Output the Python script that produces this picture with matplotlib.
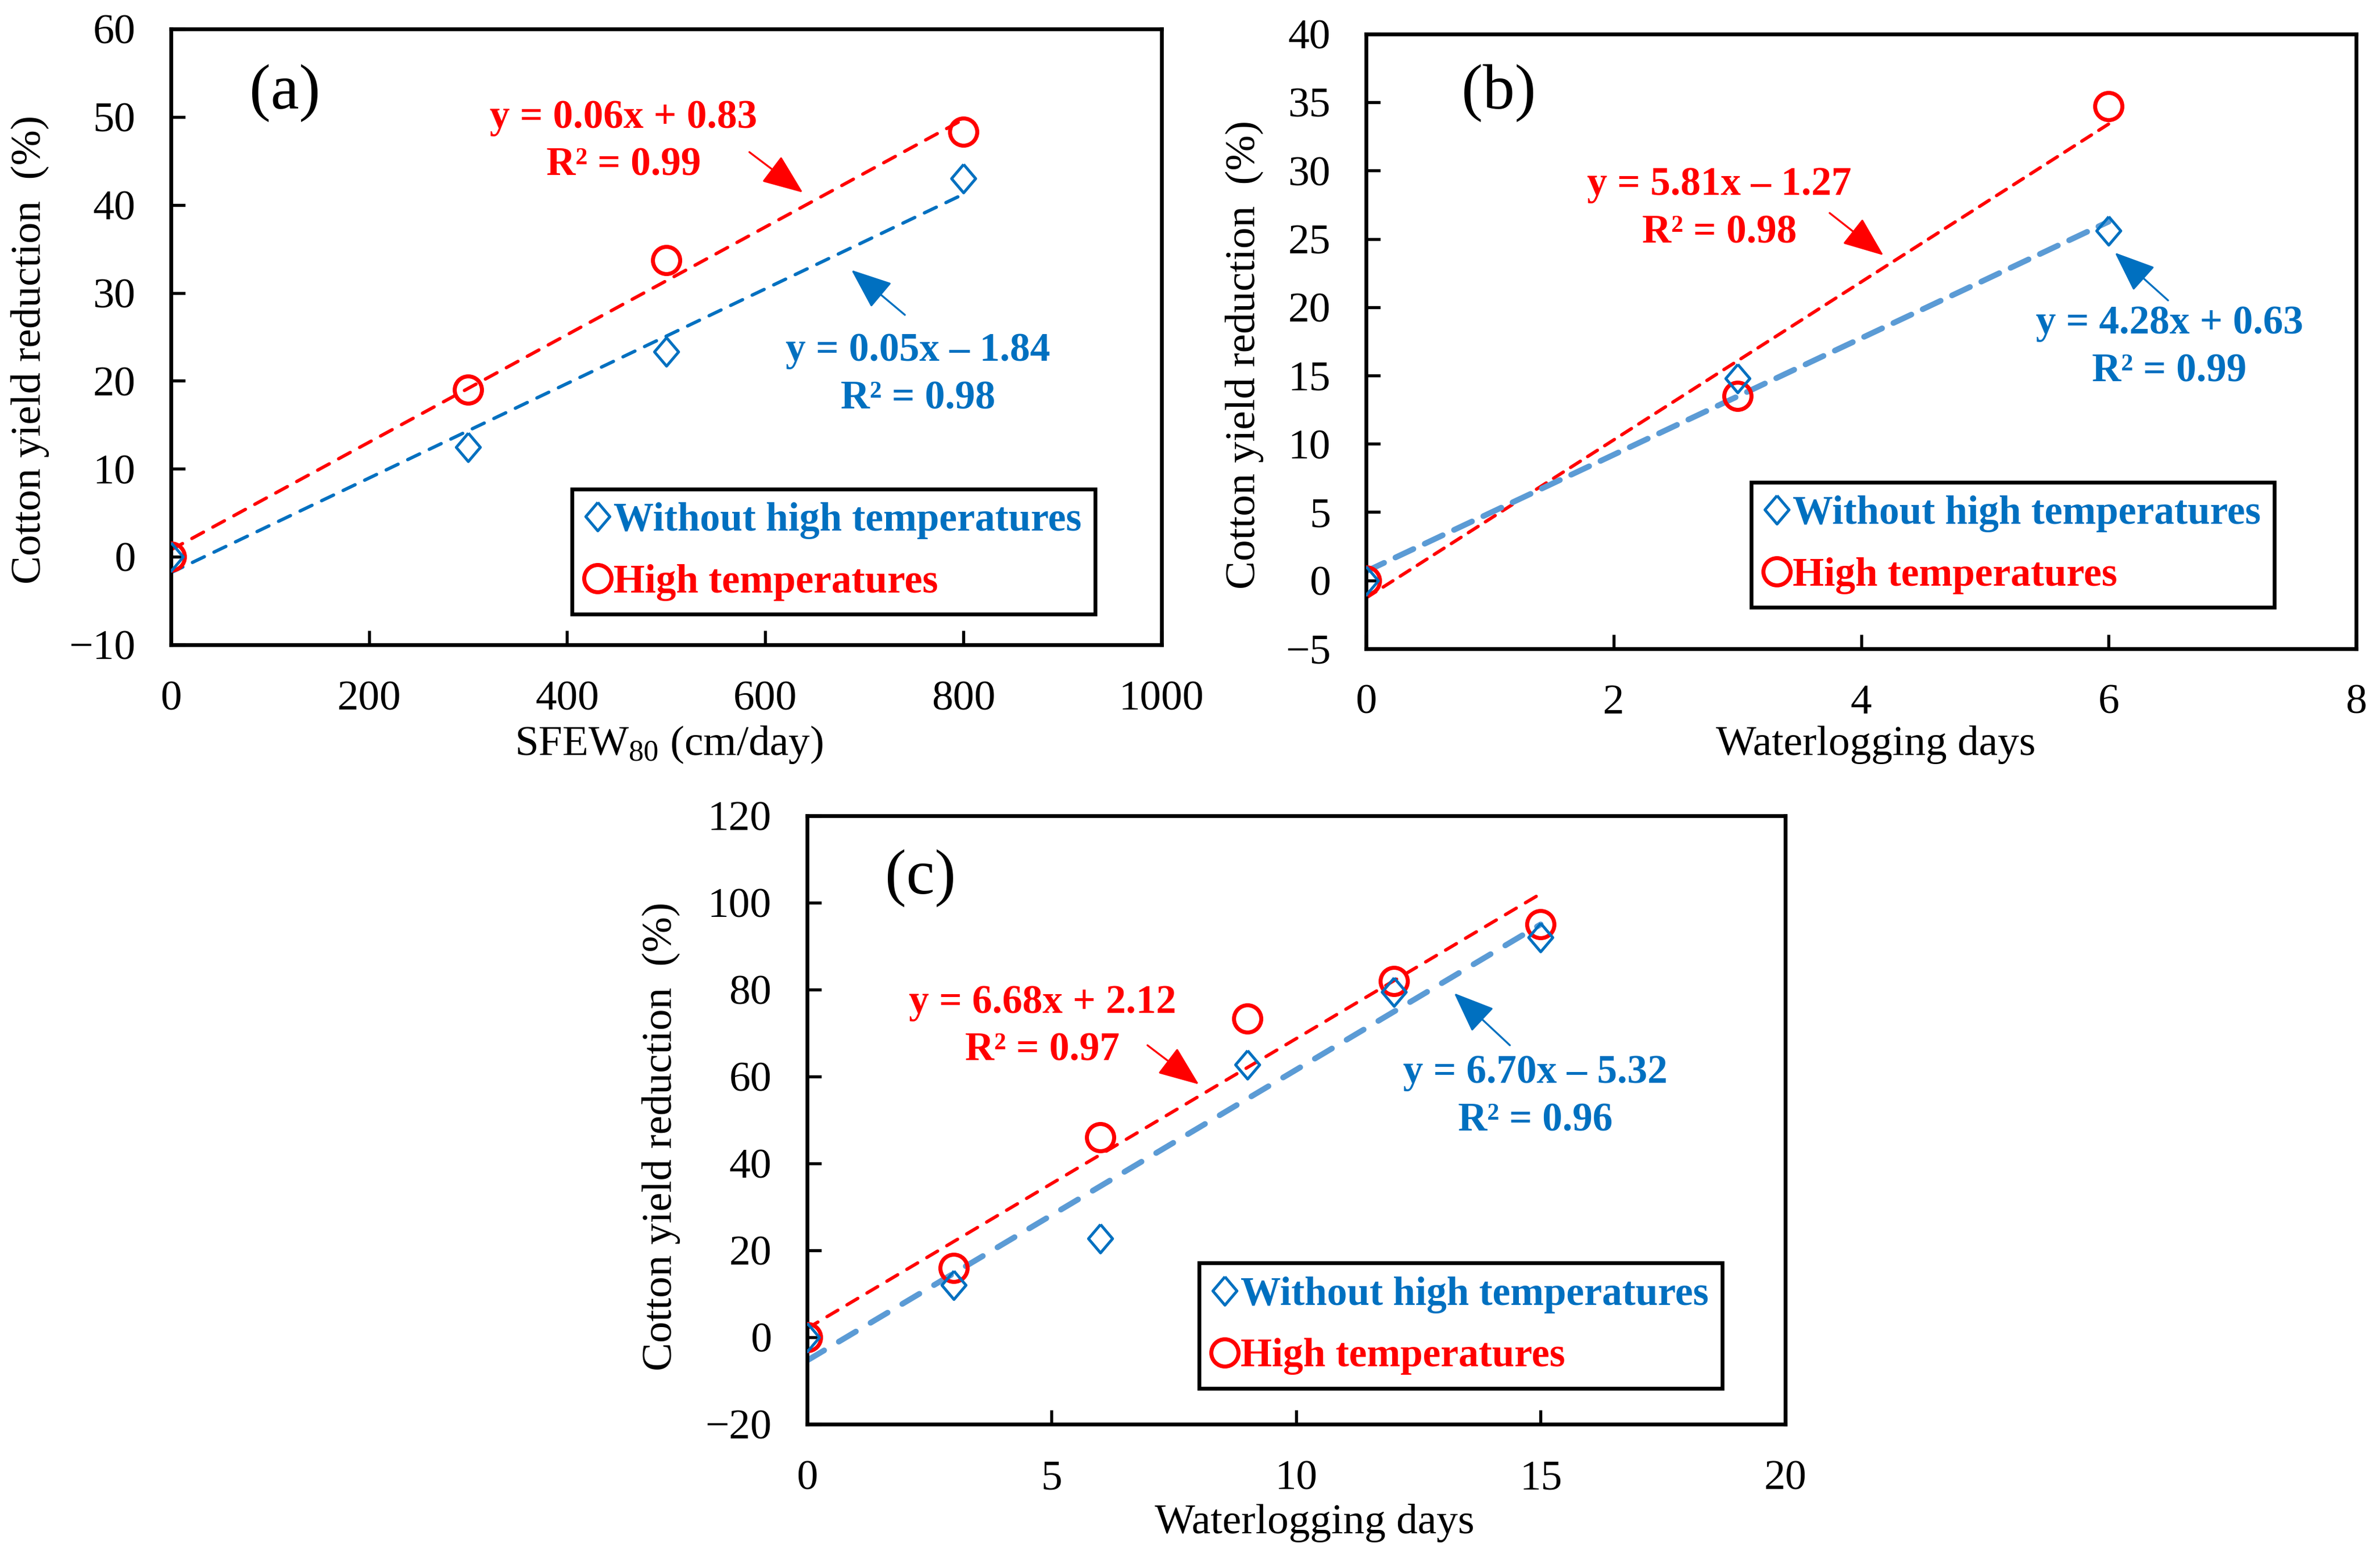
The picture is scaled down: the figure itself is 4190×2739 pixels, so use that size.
import numpy as np
import matplotlib.pyplot as plt

plt.rcParams['font.family'] = ['Liberation Serif', 'DejaVu Serif']
plt.rcParams['mathtext.default'] = 'regular'

# panel (a): SFEW80
sfew = [0, 300, 500, 800]
sfew_normal = [0, 12.5, 23.3, 43.0]
sfew_hot = [0, 19.0, 33.7, 48.3]

# panel (b): waterlogging days, first group
days_b = [0, 3, 6]
wl_b_normal = [0, 14.8, 25.6]
wl_b_hot = [0, 13.5, 34.7]

# panel (c): waterlogging days, second group
days_c = [0, 3, 6, 9, 12, 15]
wl_c_normal = [0, 12.0, 22.7, 62.8, 79.5, 92.0]
wl_c_hot = [0, 16.0, 46.0, 73.3, 82.0, 95.0]

eq_a = ['y = 0.06x + 0.83\nR² = 0.99', 'y = 0.05x – 1.84\nR² = 0.98']
eq_b = ['y = 5.81x – 1.27\nR² = 0.98', 'y = 4.28x + 0.63\nR² = 0.99']
eq_c = ['y = 6.68x + 2.12\nR² = 0.97', 'y = 6.70x – 5.32\nR² = 0.96']

RED = '#FF0000'
BLUE = '#0070C0'
LBLUE = '#5B9BD5'

diamond = [(0, 1), (0.85, 0), (0, -1), (-0.85, 0), (0, 1)]

fig = plt.figure(figsize=(4190 / 300, 2739 / 300), dpi=300)
ax_a = fig.add_axes([0.0718, 0.5856, 0.4162, 0.3958])
ax_b = fig.add_axes([0.5740, 0.5831, 0.4160, 0.3950])
ax_c = fig.add_axes([0.3391, 0.0847, 0.4110, 0.3910])


def style_axes(ax, xlim, xticks, ylim, yticks):
    ax.set_xlim(*xlim)
    ax.set_ylim(*ylim)
    ax.set_xticks(xticks)
    ax.set_yticks(yticks)
    ax.tick_params(direction='in', length=6, width=1.3, labelsize=18, pad=15)
    for sp in ax.spines.values():
        sp.set_linewidth(1.6)


def draw_panel(ax, x, y_norm, y_hot, blue_line, blue_lw, blue_dash, red_dash):
    x = np.array(x, dtype=float)
    # trend lines (least squares fit of the data)
    for y, col, lw, dash in [(y_hot, RED, 1.4, red_dash), (y_norm, blue_line, blue_lw, blue_dash)]:
        k, b = np.polyfit(x, y, 1)
        xx = np.array([x.min(), x.max()])
        ax.plot(xx, k * xx + b, color=col, lw=lw, dashes=dash, dash_capstyle='round', zorder=2)
    h1, = ax.plot(x, y_norm, linestyle='none', marker=diamond, ms=12, mfc='none',
                  mec=BLUE, mew=1.2, zorder=4, label='Without high temperatures')
    h2, = ax.plot(x, y_hot, linestyle='none', marker='o', ms=11.5, mfc='none',
                  mec=RED, mew=1.7, zorder=3, label='High temperatures')
    return h1, h2


def add_legend(ax, handles, anchor):
    leg = ax.legend(handles=handles, loc='upper left', bbox_to_anchor=anchor,
                    prop={'size': 17, 'weight': 'bold'}, handlelength=0.6,
                    handletextpad=0.1, labelspacing=0.62, borderpad=0.33,
                    borderaxespad=0, fancybox=False, framealpha=1, edgecolor='black')
    leg.get_frame().set_linewidth(1.6)
    for t, c in zip(leg.get_texts(), [BLUE, RED]):
        t.set_color(c)


def arrow(ax, tail, head, col):
    ax.annotate('', xy=head, xytext=tail,
                arrowprops=dict(arrowstyle='-|>,head_length=1.5,head_width=0.6',
                                mutation_scale=10, color=col, lw=0.8,
                                shrinkA=0, shrinkB=0), zorder=5)


def labels(ax, tag, tag_pos, xlabel, xl_pos, yl_pos):
    ax.text(tag_pos[0], tag_pos[1], tag, transform=ax.transAxes, fontsize=27,
            ha='center', va='center')
    ax.set_xlabel(xlabel, fontsize=18)
    ax.set_ylabel('Cotton yield reduction  (%)', fontsize=18)
    ax.xaxis.label.set_va('center')
    ax.yaxis.label.set_va('center')
    ax.xaxis.set_label_coords(*xl_pos)
    ax.yaxis.set_label_coords(*yl_pos)


def equation(ax, x, y, s, col):
    ax.text(x, y, s, color=col, fontsize=17, fontweight='bold',
            ha='center', va='center', linespacing=1.38)


# (a)
style_axes(ax_a, (0, 1000), range(0, 1001, 200), (-10, 60), range(-10, 61, 10))
h = draw_panel(ax_a, sfew, sfew_normal, sfew_hot, BLUE, 1.4, (4, 3.2), (4, 3.2))
add_legend(ax_a, h, (0.405, 0.253))
equation(ax_a, 457, 47.2, eq_a[0], RED)
equation(ax_a, 754, 20.7, eq_a[1], BLUE)
arrow(ax_a, (584, 46.0), (638, 41.4), RED)
arrow(ax_a, (741, 27.5), (687, 32.6), BLUE)
labels(ax_a, '(a)', (0.115, 0.897), 'SFEW$_{80}$ (cm/day)', (0.503, -0.162), (-0.142, 0.479))

# (b)
style_axes(ax_b, (0, 8), range(0, 9, 2), (-5, 40), range(-5, 41, 5))
h = draw_panel(ax_b, days_b, wl_b_normal, wl_b_hot, LBLUE, 2.4, (3.5, 2.2), (3.5, 2.6))
add_legend(ax_b, h, (0.389, 0.271))
equation(ax_b, 2.855, 27.2, eq_b[0], RED)
equation(ax_b, 6.49, 17.05, eq_b[1], BLUE)
arrow(ax_b, (3.745, 26.9), (4.18, 23.8), RED)
arrow(ax_b, (6.48, 20.5), (6.05, 24.0), BLUE)
labels(ax_b, '(b)', (0.134, 0.905), 'Waterlogging days', (0.515, -0.156), (-0.123, 0.478))

# (c)
style_axes(ax_c, (0, 20), range(0, 21, 5), (-20, 120), range(-20, 121, 20))
h = draw_panel(ax_c, days_c, wl_c_normal, wl_c_hot, LBLUE, 2.4, (3.5, 3.0), (3.8, 3.2))
add_legend(ax_c, h, (0.401, 0.265))
equation(ax_c, 4.81, 71.5, eq_c[0], RED)
equation(ax_c, 14.89, 55.3, eq_c[1], BLUE)
arrow(ax_c, (6.96, 67.2), (8.01, 58.2), RED)
arrow(ax_c, (14.37, 67.2), (13.23, 79.2), BLUE)
labels(ax_c, '(c)', (0.116, 0.898), 'Waterlogging days', (0.519, -0.162), (-0.149, 0.473))

fig.savefig('out.png', dpi=300)
